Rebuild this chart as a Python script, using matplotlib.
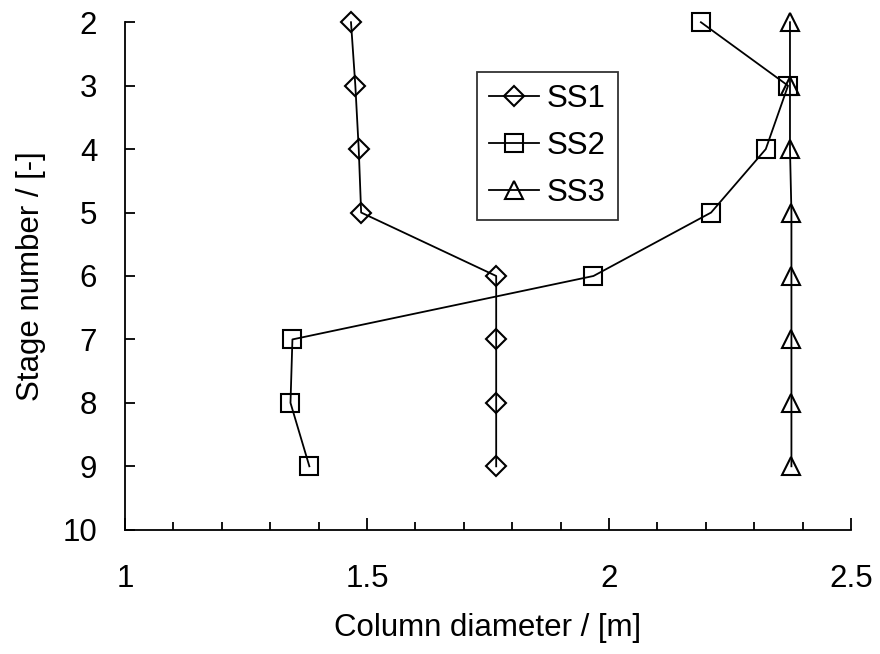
import numpy as np
import matplotlib
matplotlib.use("Agg")
import matplotlib.pyplot as plt
from matplotlib.ticker import MultipleLocator

plt.rcParams['font.family'] = ['Liberation Sans', 'DejaVu Sans']

# --- data ---
stages = [2, 3, 4, 5, 6, 7, 8, 9]
ss1 = [1.467, 1.476, 1.483, 1.488, 1.767, 1.767, 1.767, 1.767]
ss2 = [2.19, 2.370, 2.324, 2.211, 1.968, 1.346, 1.342, 1.381]
ss3 = [2.374, 2.374, 2.374, 2.377, 2.377, 2.377, 2.377, 2.377]

fig = plt.figure(figsize=(8.8, 6.54), dpi=100)
ax = fig.add_axes([0.142, 0.19, 0.825, 0.776])

# hollow markers, lines visible through them
style = dict(color='black', linewidth=1.3, markerfacecolor='none',
             markeredgecolor='black', markeredgewidth=1.5, clip_on=False)
ax.plot(ss1, stages, marker='D', markersize=10, label='SS1', **style)
ax.plot(ss2, stages, marker='s', markersize=12.5, label='SS2', **style)
ax.plot(ss3, stages, marker='^', markersize=13, label='SS3', **style)

ax.set_xlim(1, 2.5)
ax.set_ylim(10, 2)
ax.xaxis.set_major_locator(MultipleLocator(0.5))
ax.xaxis.set_minor_locator(MultipleLocator(0.1))
ax.yaxis.set_major_locator(MultipleLocator(1))
ax.xaxis.set_major_formatter(plt.FuncFormatter(lambda v, p: f"{v:g}"))

for s in ['top', 'right']:
    ax.spines[s].set_visible(False)
for s in ['left', 'bottom']:
    ax.spines[s].set_linewidth(1.3)

ax.tick_params(axis='x', which='major', direction='in', length=9, width=1.3,
               labelsize=22.5, pad=25)
ax.tick_params(axis='x', which='minor', direction='in', length=6, width=1.3)
ax.tick_params(axis='y', which='major', direction='in', length=7, width=1.3,
               labelsize=22.5, pad=20)

ax.set_xlabel("Column diameter / [m]", fontsize=22.5, labelpad=13)
ax.set_ylabel("Stage number / [-]", fontsize=22.5, labelpad=12)

leg = ax.legend(loc='upper left', bbox_to_anchor=(0.542, 0.89),
                bbox_transform=fig.transFigure, fontsize=22.5, frameon=True,
                fancybox=False, handlelength=1.6, handletextpad=0.25,
                borderpad=0.38, labelspacing=0.55, borderaxespad=0)
leg.get_frame().set_edgecolor('black')
leg.get_frame().set_linewidth(1.3)

fig.savefig("out.png", dpi=100)
